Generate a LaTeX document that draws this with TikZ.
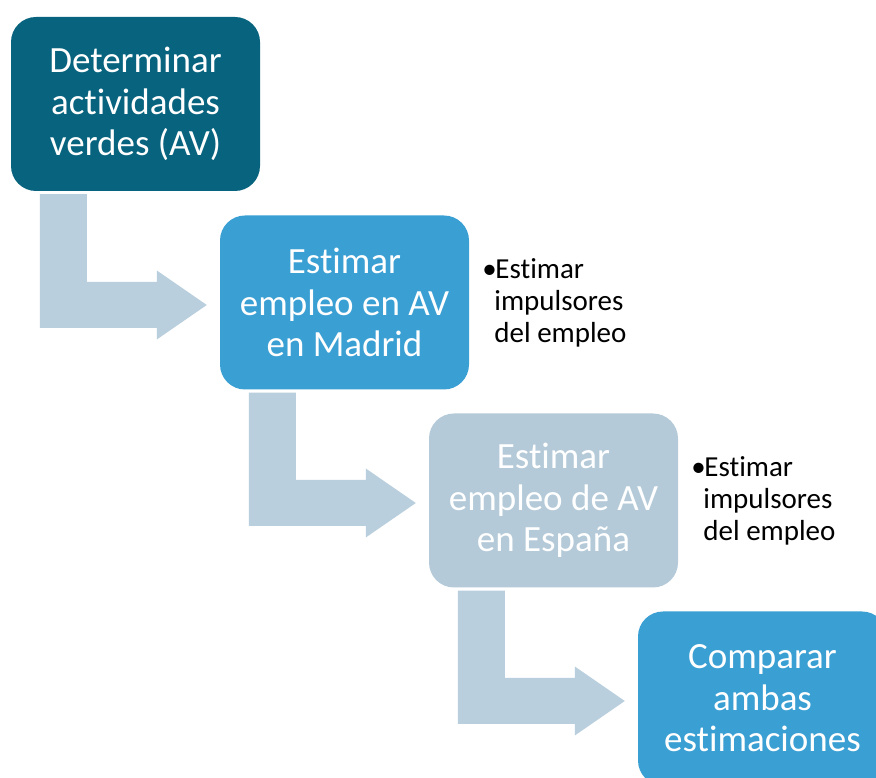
\documentclass[tikz,border=0pt]{standalone}
\usepackage{fontspec}
\setmainfont{Carlito}[Ligatures=NoCommon]
\usetikzlibrary{calc,positioning}
\definecolor{tealdark}{HTML}{07637E}
\definecolor{bluemid}{HTML}{3A9FD3}
\definecolor{greylight}{HTML}{B4CAD8}
\definecolor{arrowgrey}{HTML}{BACFDD}
\tikzstyle{stepbox}=[rectangle,rounded corners=25pt,draw=none,text=white,
                     minimum width=249pt,minimum height=174pt,inner sep=0pt,
                     align=center,font=\fontsize{37}{41.5}\selectfont]
\tikzstyle{note}=[align=left,inner sep=0pt,font=\fontsize{29}{32}\selectfont]
\tikzstyle{bent}=[fill=arrowgrey,draw=none]

\begin{document}
\begin{tikzpicture}
    \useasboundingbox (0,0) rectangle (876pt,778pt);
    \node (det) at (135.5pt,674pt) [stepbox,fill=tealdark]
      {Determinar\\actividades\\verdes (AV)};
    \node (mad) at (344.5pt,475.5pt) [stepbox,fill=bluemid]
      {Estimar\\empleo en AV\\en Madrid};
    \node (esp) at (553.5pt,277.5pt) [stepbox,fill=greylight]
      {Estimar\\empleo de AV\\en España};
    \node (comp) at (762.5pt,79.5pt) [stepbox,fill=bluemid]
      {Comparar\\ambas\\estimaciones};
    \node (madnote) [note,right=13pt of mad]
      {\makebox[13pt][l]{•}Estimar\\\hspace*{12pt}impulsores\\\hspace*{12pt}del empleo};
    \node (espnote) [note,right=13pt of esp]
      {\makebox[13pt][l]{•}Estimar\\\hspace*{12pt}impulsores\\\hspace*{12pt}del empleo};
    \foreach \a/\b in {det/mad, mad/esp, esp/comp} {
      \coordinate (s1) at ($(\a.south west)+(29pt,-3pt)$);
      \coordinate (s2) at ($(\a.south west)+(76pt,-3pt)$);
      \coordinate (t) at ($(\b.west)+(-13pt,-2.5pt)$);
      \fill[bent] (s1) -- (s2) -- (s2 |- {$(t)+(0,23pt)$})
        -- ($(t)+(-50pt,23pt)$) -- ($(t)+(-50pt,34.5pt)$) -- (t)
        -- ($(t)+(-50pt,-34.5pt)$) -- ($(t)+(-50pt,-23pt)$)
        -- (s1 |- {$(t)+(0,-23pt)$}) -- cycle;
    }
\end{tikzpicture}
\end{document}
